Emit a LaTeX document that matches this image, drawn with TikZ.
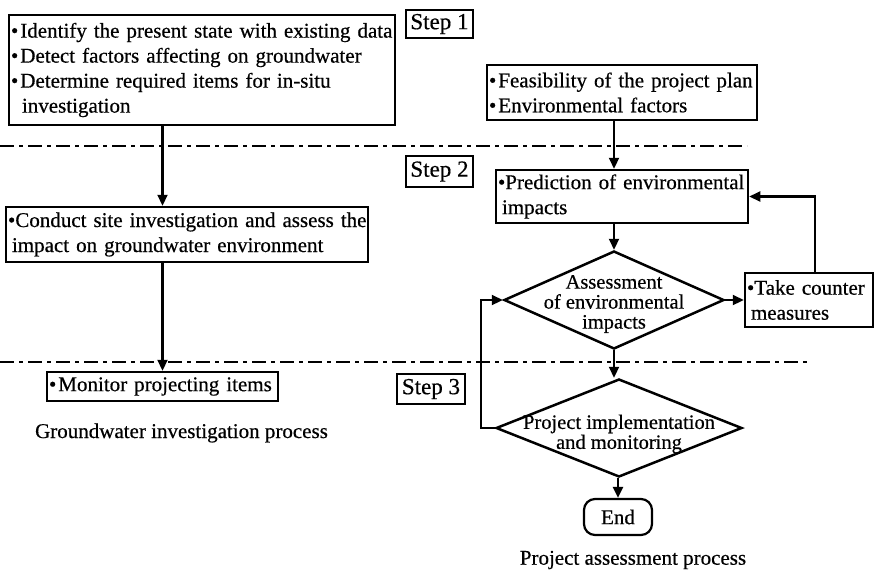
\documentclass[tikz,border=0pt]{standalone}
\usepackage{fontspec}
\setmainfont{Liberation Serif}[FakeBold=0.5]
\usepackage{tikz}
\usetikzlibrary{positioning, shapes.geometric, arrows.meta}
\tikzset{box/.style = {draw, rectangle, line width=2.5pt, align=left, inner xsep=2pt, inner ysep=0pt, font=\fontsize{21}{25}\selectfont}}
\tikzset{stepbox/.style = {draw, rectangle, line width=2pt, inner sep=0pt, font=\fontsize{23}{25}\selectfont}}
\tikzset{decision/.style = {draw, diamond, line width=2.5pt, inner sep=0pt}}
\tikzset{dtext/.style = {align=center, inner sep=0pt, font=\fontsize{20.5}{20}\selectfont}}
\tikzset{terminal/.style = {draw, rectangle, rounded corners=11pt, line width=2.2pt, minimum width=68pt, minimum height=36pt, inner sep=0pt, font=\fontsize{21}{25}\selectfont}}
\tikzset{caption/.style = {font=\fontsize{21}{25}\selectfont}}
\tikzset{divider/.style = {line width=2.4pt, dash pattern=on 14pt off 5pt on 4pt off 5pt}}
\tikzset{flow/.style = {->, line width=2.2pt}}

\begin{document}
\begin{tikzpicture}[x=1pt, y=-1pt, >={Triangle[length=11pt, width=10pt]}]
  \useasboundingbox (0,0) rectangle (875,571);

  % groundwater side
  \node [box, text width=382pt, minimum height=110pt] (survey) at (202,70)
    {\mbox{\textbullet\hspace{2pt}Identify the present state with existing data}\\
     \mbox{\textbullet\hspace{2pt}Detect factors affecting on groundwater}\\
     \mbox{\textbullet\hspace{2pt}Determine required items for in-situ}\\
     \hspace*{11pt}investigation};
  \node [box, text width=358pt, minimum height=55pt] (conduct) at (187,234.5)
    {\mbox{\textbullet Conduct site investigation and assess the}\\
     \hspace*{4pt}impact on groundwater environment};
  \node [box, text width=227pt, minimum height=29pt] (monitor) at (162.5,386.5)
    {\mbox{\textbullet\hspace{2pt}Monitor projecting items}};
  \node [caption] (gwcap) at (181.5,433) {Groundwater investigation process};

  % steps
  \node [stepbox, minimum width=67pt, minimum height=28pt] (step1) at (439.5,24) {Step 1};
  \node [stepbox, minimum width=67pt, minimum height=31pt] (step2) at (439.5,171.5) {Step 2};
  \node [stepbox, minimum width=68pt, minimum height=30pt] (step3) at (431,389) {Step 3};

  % project side
  \node [box, text width=266pt, minimum height=55pt] (feas) at (622,92.5)
    {\mbox{\textbullet\hspace{2pt}Feasibility of the project plan}\\
     \mbox{\textbullet\hspace{2pt}Environmental factors}};
  \node [box, text width=248pt, minimum height=53pt] (predict) at (622,196.5)
    {\mbox{\textbullet Prediction of environmental}\\
     \hspace*{4pt}impacts};
  \node [decision, minimum width=220pt, minimum height=98pt] (assess) at (614,300) {};
  \node [dtext, yshift=-4pt] (assesstxt) at (assess.center) {Assessment\\of environmental\\impacts};
  \node [box, text width=124pt, minimum height=54pt] (counter) at (809,300)
    {\mbox{\textbullet Take counter}\\
     \hspace*{4pt}measures};
  \node [decision, minimum width=246pt, minimum height=98pt] (implement) at (619,428) {};
  \node [dtext, yshift=-6pt] (implementtxt) at (implement.center) {Project implementation\\and monitoring};
  \node [terminal] (finish) at (618,517) {End};
  \node [caption] (pacap) at (633,560) {Project assessment process};

  % step dividers
  \draw [divider] (0,146) -- (747,146);
  \draw [divider] (0,362) -- (808,362);

  \draw [flow] (survey.south -| monitor.north) -- (conduct.north -| monitor.north);
  \draw [flow] (conduct.south -| monitor.north) -- (monitor.north);
  \draw [flow] (feas.south -| assess.north) -- (predict.north -| assess.north);
  \draw [flow] (predict.south -| assess.north) -- (assess.north);
  \draw [flow] (assess.east) -- (counter.west);
  \draw [flow] ([xshift=6pt]counter.north) |- (predict.east);
  \draw [flow] (assess.south) -- (implement.north -| assess.south);
  \draw [flow] (implement.west) -- ++(-14,0) |- (assess.west);
  \draw [flow] (implement.south -| finish.north) -- (finish.north);
\end{tikzpicture}
\end{document}
